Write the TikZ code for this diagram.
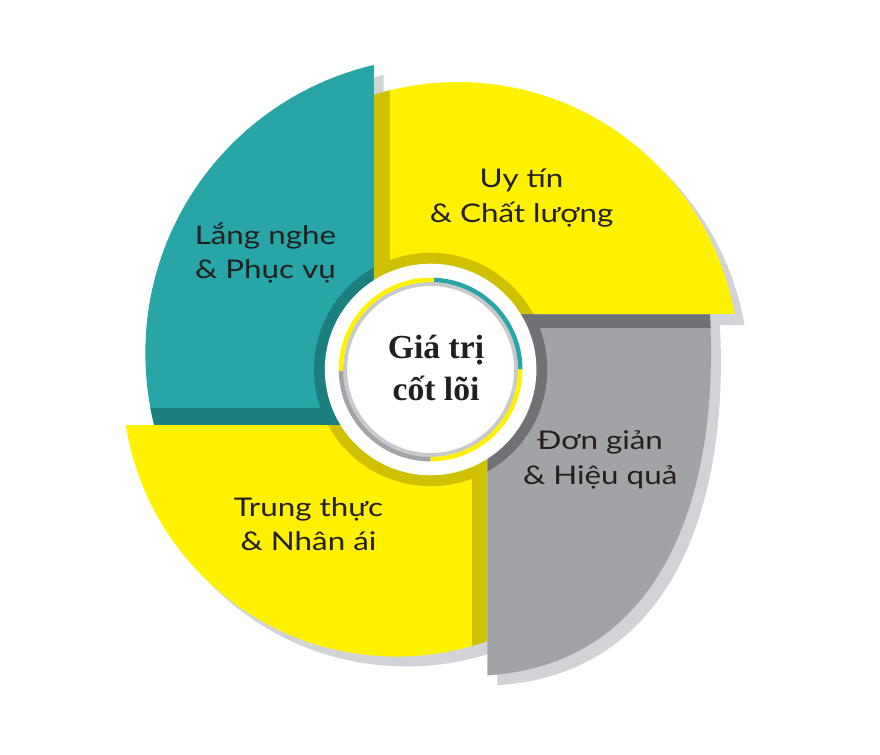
\documentclass[tikz,border=0pt]{standalone}
\usepackage{fontspec}
\setmainfont{Liberation Serif}
\newfontfamily\nhanfont{Lato}[FakeStretch=1.22]

\definecolor{xanhngoc}{HTML}{27A5A7}
\definecolor{xanhdam}{HTML}{1B7F80}
\definecolor{vang}{HTML}{FFF100}
\definecolor{vangdam}{HTML}{CFC000}
\definecolor{xam}{HTML}{A2A3A7}
\definecolor{xamdam}{HTML}{707174}
\definecolor{bong}{HTML}{D2D3D7}
\definecolor{vienxam}{HTML}{C8C9CC}
\definecolor{chu}{HTML}{231F20}

\newcommand\vienxam{(493,435) -- (718,435) .. controls (728,253) and (670,81) .. (493,70) -- cycle}

\begin{document}
\begin{tikzpicture}[x=1pt,y=1pt,
  nhan/.style={anchor=base,inner sep=0pt,text=chu,font=\nhanfont\fontsize{26}{30}\selectfont},
  loi/.style={anchor=base,inner sep=0pt,text=chu,font=\bfseries\fontsize{34}{40}\selectfont}]

  \fill[white] (0,0) rectangle (880,753);
  \coordinate (C) at (435.5,379.3);

  \begin{scope}[shift={(10,-10)}]
    \begin{scope}
      \clip (0,323) rectangle (378,753);
      \fill[bong] (446,396) circle (299);
    \end{scope}
    \begin{scope}
      \clip (378,435) rectangle (880,753);
      \fill[bong] (463,386) circle (284);
    \end{scope}
    \begin{scope}
      \clip (0,0) rectangle (493,323);
      \fill[bong] (401,366) circle (277);
    \end{scope}
    \fill[bong] \vienxam;
  \end{scope}

  \begin{scope}
    \clip (0,323) rectangle (378,753);
    \clip (446,396) circle (299);
    \fill[xanhngoc] (0,323) rectangle (378,753);
    \fill[xanhdam] (0,323) rectangle (378,340);
    \fill[xanhdam] (C) circle (118);
  \end{scope}

  \begin{scope}
    \clip (378,435) rectangle (880,753);
    \clip (463,386) circle (284);
    \fill[vang] (378,435) rectangle (880,753);
    \fill[vangdam] (378,435) rectangle (394,753);
    \fill[vangdam] (C) circle (118);
  \end{scope}

  \begin{scope}
    \clip \vienxam;
    \fill[xam] (493,0) rectangle (880,435);
    \fill[xamdam] (493,421) rectangle (880,435);
    \fill[xamdam] (C) circle (118);
  \end{scope}

  \begin{scope}
    \clip (0,0) rectangle (493,323);
    \clip (401,366) circle (277);
    \fill[vang] (0,0) rectangle (493,323);
    \fill[vangdam] (477,0) rectangle (493,323);
    \fill[vangdam] (C) circle (118);
  \end{scope}

  \fill[white] (C) circle (107);
  \draw[vienxam, line width=4] (C) circle (86.5);
  \foreach \a/\b/\c in {0/88/xanhngoc, 88/181/vang, 181/270/xam, 270/360/vang}
    \draw[\c, line width=4.5] (C) ++(\a:90.7) arc[start angle=\a, end angle=\b, radius=90.7];

  \node[nhan] (uytin) at (527.5,563) {Uy tín};
  \node[nhan] (chatluong) at (527.5,528) {\& Chất lượng};
  \node[nhan] (langnghe) at (268.5,506) {Lắng nghe};
  \node[nhan] (phucvu) at (268.5,471) {\& Phục vụ};
  \node[nhan] (dongian) at (607,298) {Đơn giản};
  \node[nhan] (hieuqua) at (607,263) {\& Hiệu quả};
  \node[nhan] (trungthuc) at (312,231) {Trung thực};
  \node[nhan] (nhanai) at (312,196) {\& Nhân ái};

  \node[loi] (giatri) at (441,390) {Giá trị};
  \node[loi] (cotloi) at (441,348) {cốt lõi};
\end{tikzpicture}
\end{document}
